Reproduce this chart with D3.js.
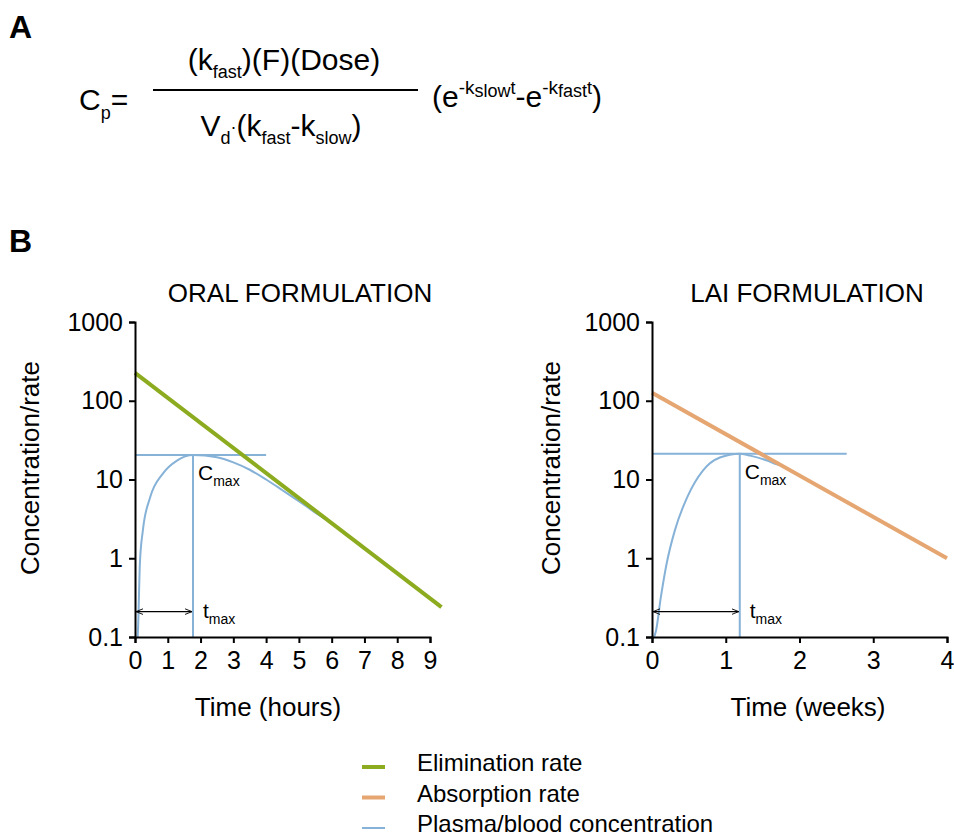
<!DOCTYPE html>
<html>
<head>
<meta charset="utf-8">
<script src="https://cdn.jsdelivr.net/npm/d3@7"></script>
<style>
  body { margin: 0; background: #fff; }
  text { font-family: "Liberation Sans", Arial, sans-serif; fill: #000; }
</style>
</head>
<body>
<div id="chart-area"></div>
<script>
// DATA
var yTicks = [0.1, 1, 10, 100, 1000];
var oralTicks = [0, 1, 2, 3, 4, 5, 6, 7, 8, 9];
var laiTicks = [0, 1, 2, 3, 4];

// straight rate lines
var elimTime = [0, 9.35];
var elimRate = [226, 0.24];
var absTime = [0, 4];
var absRate = [126, 1.0];

// plasma concentration curves
var oralTime = [0.08, 0.09, 0.15, 0.24, 0.46, 0.85, 1.28, 1.77, 2.5, 3.0, 3.5, 4.0, 4.5, 5.0, 5.5, 5.8, 6.1];
var oralConc = [0.1, 0.12, 0.87, 2.26, 5.9, 11.9, 17.4, 20.5, 19.2, 16.5, 13.3, 10.0, 7.3, 5.3, 3.8, 3.15, 2.6];
var laiTime = [0.03, 0.054, 0.12, 0.2, 0.31, 0.475, 0.69, 0.92, 1.19, 1.33, 1.56, 1.69, 1.75];
var laiConc = [0.1, 0.12, 0.32, 0.87, 2.26, 5.9, 13.0, 19.0, 21.3, 20.1, 17.4, 15.6, 15.2];

// Cmax / tmax markers
var oralCmax = 20.5, oralTmax = 1.77, oralCmaxEnd = 4.0;
var laiCmax = 21.3, laiTmax = 1.19, laiCmaxEnd = 2.64;
var arrowLevel = 0.21;

var legendNames = ["Elimination rate", "Absorption rate", "Plasma/blood concentration"];

var green = "#8cab1f";
var orange = "#e5a672";
var blue = "#86b2d8";
var legendColors = [green, orange, blue];
var legendWidths = [4, 4, 2];

var width = 954, height = 838;

var svg = d3.select("#chart-area")
    .append("svg")
    .attr("width", width)
    .attr("height", height);

// arrow marker for tmax
var defs = svg.append("defs");
["start", "end"].forEach(function (k) {
    defs.append("marker")
        .attr("id", "arrow-" + k)
        .attr("viewBox", "0 0 10 10")
        .attr("refX", k == "end" ? 10 : 0)
        .attr("refY", 5)
        .attr("markerWidth", 7)
        .attr("markerHeight", 7)
        .attr("markerUnits", "userSpaceOnUse")
        .attr("orient", "auto")
        .append("path")
        .attr("d", k == "end" ? "M0,1L10,5L0,9" : "M10,1L0,5L10,9")
        .attr("fill", "none")
        .attr("stroke", "#000")
        .attr("stroke-width", 1.3);
});

// PANEL LETTERS
svg.append("text").attr("x", 9).attr("y", 38)
    .attr("font-size", "32px").attr("font-weight", "bold").text("A");
svg.append("text").attr("x", 9).attr("y", 252)
    .attr("font-size", "32px").attr("font-weight", "bold").text("B");

// FORMULA
var fs = 30, sub = 18;
var f = svg.append("g").attr("font-size", fs + "px");

var cp = f.append("text").attr("x", 79).attr("y", 110);
cp.append("tspan").text("C");
cp.append("tspan").attr("font-size", sub + "px").attr("dy", 9).text("p");
cp.append("tspan").attr("dy", -9).text("=");

f.append("line")
    .attr("x1", 153).attr("x2", 418)
    .attr("y1", 90).attr("y2", 90)
    .attr("stroke", "#000").attr("stroke-width", 2);

var num = f.append("text").attr("x", 284).attr("y", 70).attr("text-anchor", "middle");
num.append("tspan").text("(k");
num.append("tspan").attr("font-size", sub + "px").attr("dy", 8).text("fast");
num.append("tspan").attr("dy", -8).text(")(F)(Dose)");

var den = f.append("text").attr("x", 281).attr("y", 136).attr("text-anchor", "middle");
den.append("tspan").text("V");
den.append("tspan").attr("font-size", sub + "px").attr("dy", 8).text("d");
den.append("tspan").attr("font-size", sub + "px").attr("dy", -11).text("·");
den.append("tspan").attr("dy", 3).text("(k");
den.append("tspan").attr("font-size", sub + "px").attr("dy", 8).text("fast");
den.append("tspan").attr("dy", -8).text("-k");
den.append("tspan").attr("font-size", sub + "px").attr("dy", 8).text("slow");
den.append("tspan").attr("dy", -8).text(")");

var ex = f.append("text").attr("x", 432).attr("y", 107);
ex.append("tspan").text("(e");
ex.append("tspan").attr("font-size", "19px").attr("dy", -13).text("-k");
ex.append("tspan").attr("font-size", "18px").attr("dy", 3).text("slow");
ex.append("tspan").attr("font-size", "18px").attr("dy", -3).text("t");
ex.append("tspan").attr("dy", 13).text("-e");
ex.append("tspan").attr("font-size", "19px").attr("dy", -13).text("-k");
ex.append("tspan").attr("font-size", "18px").attr("dy", 3).text("fast");
ex.append("tspan").attr("font-size", "18px").attr("dy", -3).text("t");
ex.append("tspan").attr("dy", 13).text(")");

// SHARED Y SCALE
var y = d3.scaleLog().domain([0.1, 1000]).range([637, 322]);

function panel(o) {
    var x = d3.scaleLinear().domain(o.domain).range(o.range);
    var g = svg.append("g");

    var line = d3.line()
        .x(function (d) { return x(d[0]); })
        .y(function (d) { return y(d[1]); });
    var curve = d3.line()
        .x(function (d) { return x(d[0]); })
        .y(function (d) { return y(d[1]); })
        .curve(d3.curveMonotoneX);

    // Cmax guide lines
    g.append("line")
        .attr("x1", x(0)).attr("x2", x(o.cmaxEnd))
        .attr("y1", y(o.cmax)).attr("y2", y(o.cmax))
        .attr("stroke", blue).attr("stroke-width", 2);
    g.append("line")
        .attr("x1", x(o.tmax)).attr("x2", x(o.tmax))
        .attr("y1", y(o.cmax)).attr("y2", y(0.1))
        .attr("stroke", blue).attr("stroke-width", 2);

    // plasma curve
    g.append("path")
        .datum(d3.zip(o.time, o.conc))
        .attr("d", curve)
        .attr("fill", "none")
        .attr("stroke", blue)
        .attr("stroke-width", 2);

    // rate line
    g.append("path")
        .datum(d3.zip(o.rateTime, o.rate))
        .attr("d", line)
        .attr("fill", "none")
        .attr("stroke", o.rateColor)
        .attr("stroke-width", 4);

    // axes
    var yAxis = g.append("g")
        .attr("transform", "translate(" + x(0) + ",0)")
        .call(d3.axisLeft(y).tickValues(yTicks).tickFormat(function (d) { return d; })
            .tickSize(6).tickPadding(6));
    var xAxis = g.append("g")
        .attr("transform", "translate(0," + y(0.1) + ")")
        .call(d3.axisBottom(x).tickValues(o.ticks).tickFormat(d3.format("d"))
            .tickSize(6).tickPadding(8));
    [xAxis, yAxis].forEach(function (a) {
        a.selectAll("path, line").attr("stroke", "#000").attr("stroke-width", 2);
        a.selectAll("text").attr("font-size", "25px")
            .attr("font-family", "'Liberation Sans', Arial, sans-serif").attr("fill", "#000");
    });

    // tmax arrow
    g.append("line")
        .attr("x1", x(0) + 1).attr("x2", x(o.tmax) - 1)
        .attr("y1", y(arrowLevel)).attr("y2", y(arrowLevel))
        .attr("stroke", "#000").attr("stroke-width", 1.3)
        .attr("marker-start", "url(#arrow-start)")
        .attr("marker-end", "url(#arrow-end)");

    // labels
    var c = g.append("text")
        .attr("x", x(o.tmax) + 5).attr("y", y(o.cmax) + 25)
        .attr("font-size", "21px");
    c.append("tspan").text("C");
    c.append("tspan").attr("font-size", "14px").attr("dy", 6).text("max");

    var t = g.append("text")
        .attr("x", x(o.tmax) + 10).attr("y", y(arrowLevel) + 6)
        .attr("font-size", "21px");
    t.append("tspan").text("t");
    t.append("tspan").attr("font-size", "14px").attr("dy", 6).text("max");

    g.append("text")
        .attr("x", o.titleX).attr("y", 302)
        .attr("text-anchor", "middle")
        .attr("font-size", "26px")
        .text(o.title);

    g.append("text")
        .attr("x", o.xLabelX).attr("y", 716)
        .attr("text-anchor", "middle")
        .attr("font-size", "26px")
        .text(o.xLabel);

    g.append("text")
        .attr("transform", "translate(" + o.yLabelX + ",468) rotate(-90)")
        .attr("text-anchor", "middle")
        .attr("font-size", "26px")
        .text("Concentration/rate");
}

panel({
    domain: [0, 9], range: [135, 430], ticks: oralTicks,
    time: oralTime, conc: oralConc,
    rateTime: elimTime, rate: elimRate, rateColor: green,
    cmax: oralCmax, tmax: oralTmax, cmaxEnd: oralCmaxEnd,
    title: "ORAL FORMULATION", titleX: 300,
    xLabel: "Time (hours)", xLabelX: 268, yLabelX: 39
});

panel({
    domain: [0, 4], range: [652, 947], ticks: laiTicks,
    time: laiTime, conc: laiConc,
    rateTime: absTime, rate: absRate, rateColor: orange,
    cmax: laiCmax, tmax: laiTmax, cmaxEnd: laiCmaxEnd,
    title: "LAI FORMULATION", titleX: 807,
    xLabel: "Time (weeks)", xLabelX: 808, yLabelX: 560
});

// LEGEND
var legend = svg.append("g");
legendNames.forEach(function (name, i) {
    var yy = 771 + i * 30.5;
    legend.append("line")
        .attr("x1", 362).attr("x2", 385)
        .attr("y1", yy - 4).attr("y2", yy - 4)
        .attr("stroke", legendColors[i])
        .attr("stroke-width", legendWidths[i]);
    legend.append("text")
        .attr("x", 417).attr("y", yy)
        .attr("font-size", "24px")
        .text(name);
});
</script>
</body>
</html>
